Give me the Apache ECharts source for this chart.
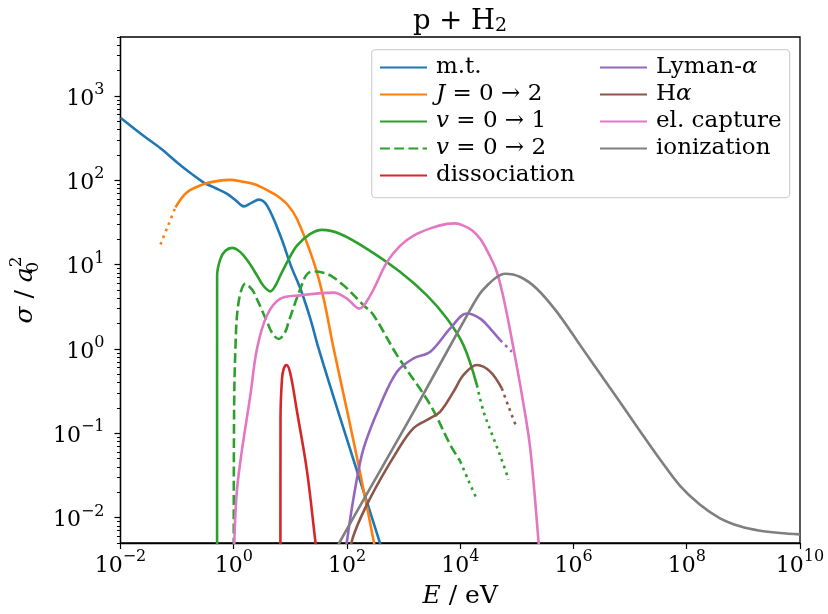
<!DOCTYPE html>
<html>
<head>
<meta charset="utf-8">
<script src="https://cdn.jsdelivr.net/npm/echarts@6/dist/echarts.min.js"></script>
<style>
  html, body { margin: 0; padding: 0; background: #fff; }
  #chart { width: 828px; height: 614px; }
</style>
</head>
<body>
<div id="chart"></div>
<script>
// [E in eV, sigma in a0^2]
const mtData = [[0.01, 552], [0.0258, 335], [0.0508, 240], [0.1, 163], [0.172, 122], [0.295, 94], [0.474, 81], [0.764, 69], [1.11, 57], [1.5, 49], [2.05, 54], [2.76, 59], [3.88, 50], [6.67, 22], [10.4, 9.4], [15, 5.2], [22.5, 2.29], [31.6, 1.01], [76, 0.151], [172, 0.027], [372, 0.0053], [421, 0.0039]];
const j02Data = [[0.0935, 47.8], [0.15, 72], [0.295, 90], [0.5, 97.7], [0.873, 101], [1.4, 96.4], [2.25, 90.2], [3.6, 78.7], [5.82, 65.5], [9, 50.9], [13.1, 34.7], [25.8, 10.8], [38.7, 3.95], [58.1, 1.01], [100, 0.188], [172, 0.033], [295, 0.0053], [330, 0.0034]];
const j02Extra = [[0.0508, 17.3], [0.0689, 28.8], [0.0935, 47.8]];
const v01Data = [[0.508, 0.003], [0.509, 7.4], [0.582, 11.7], [0.713, 14.6], [0.935, 15.8], [1.16, 15.0], [1.5, 12.8], [1.97, 9.95], [2.58, 7.44], [3.34, 5.62], [4.44, 4.82], [5.43, 5.62], [6.67, 7.44], [9.22, 11.4], [13.1, 16.8], [22.5, 23.1], [36.2, 25.8], [76.2, 23.1], [225, 15.4], [873, 8.17], [2580, 4.32], [5820, 2.29], [11400, 1.11], [19700, 0.373]];
const v01Extra = [[19700, 0.373], [25800, 0.181], [38700, 0.0877], [58100, 0.0424], [71200, 0.0282]];
const v02Data = [[1.0, 0.003], [1.01, 0.115], [1.07, 1.0], [1.22, 3.61], [1.61, 5.94], [1.97, 5.32], [2.25, 4.74], [3.87, 2.1], [4.81, 1.53], [6.22, 1.31], [8.17, 1.61], [9.33, 2.1], [15, 5.18], [20, 7.79], [27.6, 8.3], [38.2, 8.0], [50.8, 7.44], [87.4, 5.67], [197, 3.29], [295, 2.51], [764, 0.845], [2960, 0.217], [6660, 0.0731], [10000, 0.0466]];
const v02Extra = [[10000, 0.0466], [13800, 0.028], [19700, 0.0164]];
const dissData = [[6.67, 0.002], [6.7, 0.151], [7.13, 0.449], [7.67, 0.588], [8.5, 0.644], [9.97, 0.514], [13.1, 0.181], [19.7, 0.0354], [27.6, 0.00528], [29.9, 0.0034]];
const lymanData = [[95, 0.0034], [100, 0.00528], [140, 0.0225], [197, 0.0668], [387, 0.217], [764, 0.538], [1500, 0.773], [2960, 0.927], [6660, 1.75], [13100, 2.63], [22500, 2.29], [35000, 1.7], [50800, 1.27]];
const lymanExtra = [[50800, 1.27], [81700, 0.927]];
const halphaData = [[115, 0.0034], [122, 0.00528], [258, 0.0171], [764, 0.0611], [1500, 0.115], [2960, 0.151], [4440, 0.181], [7620, 0.312], [11400, 0.491], [19700, 0.644], [33800, 0.538], [54300, 0.341]];
const halphaExtra = [[54300, 0.341], [73100, 0.198], [100000, 0.115]];
const captureData = [[1.0, 0.003], [1.11, 0.0171], [1.31, 0.0466], [1.97, 0.285], [2.58, 1.01], [3.87, 2.51], [6.67, 3.95], [15, 4.32], [58.1, 4.65], [100, 3.95], [165, 3.01], [258, 4.32], [508, 10.7], [873, 16.8], [1500, 22.1], [2960, 26.9], [5820, 30.4], [8170, 30.8], [11400, 29.0], [16300, 25.4], [22500, 20.2], [31200, 13.8], [44400, 8.17], [62200, 3.26], [87300, 1.01], [124000, 0.275], [172000, 0.0668], [241000, 0.00528], [253000, 0.0034]];
const ionData = [[62.2, 0.0038], [76.2, 0.00528], [1500, 0.179], [15000, 2.93], [22500, 4.58], [29600, 5.62], [44400, 7.13], [62200, 7.79], [115000, 7.13], [225000, 5.18], [508000, 2.75], [1.31e6, 1.11], [2.95e6, 0.509], [6.65e6, 0.233], [1.5e7, 0.106], [3.38e7, 0.0489], [7.62e7, 0.0238], [1.72e8, 0.0142], [3.87e8, 0.00982], [8.73e8, 0.0079], [1.97e9, 0.007], [4.44e9, 0.00657], [1e10, 0.00632]];

const legendLeft = ['m.t.', 'J = 0 → 2', 'v = 0 → 1', 'v = 0 → 2', 'dissociation'];
const legendRight = ['Lyman-α', 'Hα', 'el. capture', 'ionization'];
const legendRich = {
  'J = 0 → 2': '{i|J} = 0 → 2',
  'v = 0 → 1': '{i|v} = 0 → 1',
  'v = 0 → 2': '{i|v} = 0 → 2',
  'Lyman-α': 'Lyman-{i|α}',
  'Hα': 'H{i|α}'
};

// axis range in log10 units
const xMin = -2, xMax = 10;
const yMin = Math.log10(5e-3), yMax = Math.log10(5e3);
const yMajor = [-2, -1, 0, 1, 2, 3];
const yMinor = [];
for (let n = -3; n <= 3; n++) {
  for (let k = 2; k <= 9; k++) {
    const v = Math.log10(k) + n;
    if (v >= yMin - 1e-9 && v <= yMax + 1e-9) yMinor.push(v);
  }
}

const FONT = 'DejaVu Serif';
const LW = 2.6;
const DASH = [9.9, 4.3];
const DOT = [2.7, 4.4];

const toLog = (arr) => arr.map(([e, s]) => [Math.log10(e), Math.log10(s)]);

function line(name, data, color, type) {
  return {
    name: name,
    type: 'line',
    data: toLog(data),
    symbol: 'none',
    showSymbol: false,
    smooth: 0.35,
    clip: true,
    silent: true,
    lineStyle: { color: color, width: LW, type: type || 'solid', cap: 'butt' },
    itemStyle: { color: color }
  };
}

const powLabel = (v) => {
  const n = Math.round(v);
  const s = n < 0 ? '\u2212' + (-n) : String(n);
  return '{b|10}{s|' + s + '}';
};
const powRich = {
  b: { fontSize: 22, fontFamily: FONT, color: '#000', lineHeight: 28, verticalAlign: 'bottom' },
  s: { fontSize: 16, fontFamily: FONT, color: '#000', lineHeight: 16, verticalAlign: 'top' }
};

const legendBase = {
  orient: 'vertical',
  top: 56,
  padding: 0,
  itemWidth: 47,
  itemHeight: 14,
  itemGap: 4,
  selectedMode: false,
  itemStyle: { opacity: 0 },
  formatter: (name) => legendRich[name] || name,
  textStyle: {
    fontFamily: FONT, fontSize: 23, color: '#000', lineHeight: 23, padding: [0, 0, 0, 4],
    rich: { i: { fontFamily: FONT, fontStyle: 'italic', fontSize: 23, color: '#000' } }
  }
};

const chart = echarts.init(document.getElementById('chart'));

chart.setOption({
  animation: false,
  backgroundColor: '#fff',
  grid: {
    left: 120, right: 28, top: 37, bottom: 69,
    show: true, borderColor: '#000', borderWidth: 1.3, backgroundColor: 'transparent'
  },
  legend: [
    Object.assign({}, legendBase, { left: 379, data: legendLeft }),
    Object.assign({}, legendBase, { left: 599, data: legendRight })
  ],
  graphic: [{
    type: 'rect', left: 371, top: 49, z: 3,
    shape: { width: 418, height: 148, r: 4 },
    style: { fill: 'rgba(255,255,255,0.8)', stroke: '#d4d4d4', lineWidth: 1.3 }
  }, {
    type: 'text', x: 460, y: 2, z: 5,
    style: {
      text: '{n|p + H}{sub|2}',
      align: 'center',
      rich: {
        n: { fontFamily: FONT, fontSize: 27.5, color: '#000', lineHeight: 34, verticalAlign: 'bottom' },
        sub: { fontFamily: FONT, fontSize: 19, color: '#000', lineHeight: 23, verticalAlign: 'bottom' }
      }
    }
  }],
  xAxis: [{
    type: 'value', min: xMin, max: xMax, interval: 2,
    axisLine: { show: true, onZero: false, lineStyle: { color: '#000', width: 1.3 } },
    axisTick: { show: true, length: 6, lineStyle: { color: '#000', width: 1.2 } },
    axisLabel: { margin: 6, formatter: powLabel, rich: powRich },
    splitLine: { show: false },
    name: '{i|E} / eV',
    nameLocation: 'middle',
    nameGap: 41,
    nameTextStyle: {
      fontFamily: FONT, fontSize: 25, color: '#000',
      rich: { i: { fontFamily: FONT, fontStyle: 'italic', fontSize: 25, color: '#000' } }
    }
  }],
  yAxis: [{
    type: 'value', min: yMin, max: yMax, position: 'left',
    axisLine: { show: true, onZero: false, lineStyle: { color: '#000', width: 1.3 } },
    axisTick: { show: true, length: 6, customValues: yMajor, lineStyle: { color: '#000', width: 1.2 } },
    axisLabel: { margin: 16, customValues: yMajor, formatter: powLabel, rich: powRich },
    splitLine: { show: false },
    name: '{i|σ} / {i|a}{sub|0}{sup|2}',
    nameLocation: 'middle',
    nameRotate: 90,
    nameGap: 72,
    nameTextStyle: {
      fontFamily: FONT, fontSize: 25, color: '#000', lineHeight: 34,
      rich: {
        i: { fontFamily: FONT, fontStyle: 'italic', fontSize: 25, color: '#000', lineHeight: 34 },
        sub: { fontFamily: FONT, fontSize: 17, color: '#000', width: 0, lineHeight: 20, verticalAlign: 'bottom' },
        sup: { fontFamily: FONT, fontSize: 17, color: '#000', lineHeight: 20, verticalAlign: 'top' }
      }
    }
  }, {
    type: 'value', min: yMin, max: yMax, position: 'left',
    axisLine: { show: false, onZero: false },
    axisTick: { show: true, length: 3.5, customValues: yMinor, lineStyle: { color: '#000', width: 1 } },
    axisLabel: { show: false },
    splitLine: { show: false }
  }],
  series: [
    line('m.t.', mtData, '#1f77b4'),
    line('J = 0 → 2', j02Data, '#ff7f0e'),
    line('J ext', j02Extra, '#ff7f0e', DOT),
    line('v = 0 → 1', v01Data, '#2ca02c'),
    line('v01 ext', v01Extra, '#2ca02c', DOT),
    line('v = 0 → 2', v02Data, '#2ca02c', DASH),
    line('v02 ext', v02Extra, '#2ca02c', DOT),
    line('dissociation', dissData, '#d62728'),
    line('Lyman-α', lymanData, '#9467bd'),
    line('Ly ext', lymanExtra, '#9467bd', DOT),
    line('Hα', halphaData, '#8c564b'),
    line('Ha ext', halphaExtra, '#8c564b', DOT),
    line('el. capture', captureData, '#e377c2'),
    line('ionization', ionData, '#7f7f7f')
  ]
});
</script>
</body>
</html>
